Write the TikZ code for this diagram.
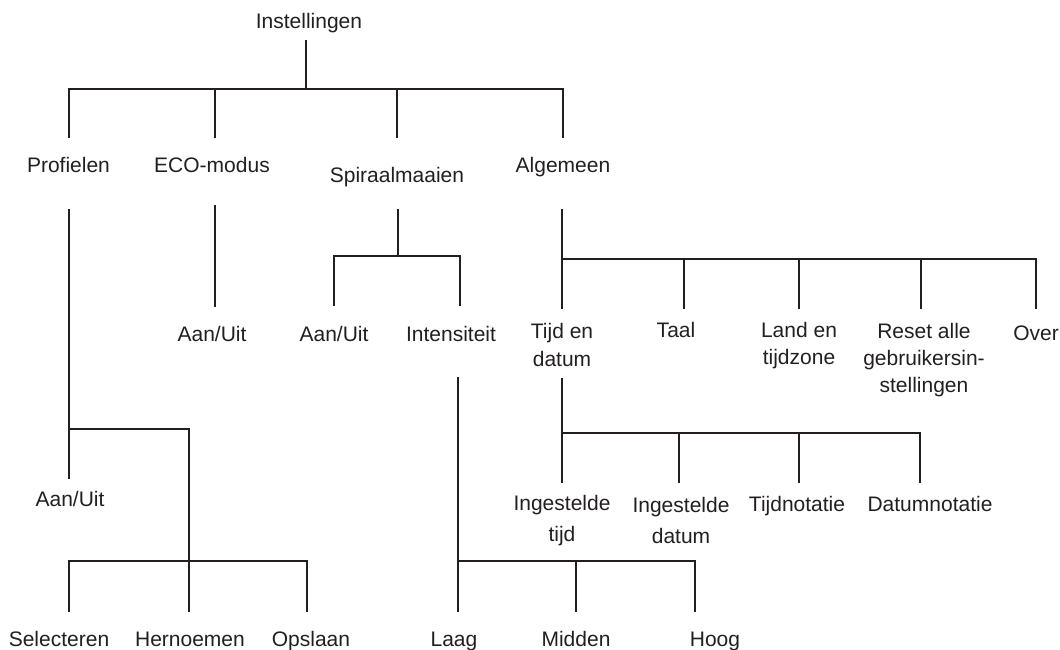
\documentclass[tikz,border=0pt]{standalone}
\usepackage{fontspec}
\setmainfont{Liberation Sans}
\definecolor{ink}{HTML}{231F20}
\begin{document}
\begin{tikzpicture}[x=1pt,y=-1pt,
  lbl/.style={anchor=base,inner sep=0pt,text=ink,align=center,font=\fontsize{21}{28}\selectfont},
  lbltall/.style={lbl,font=\fontsize{21}{31}\selectfont},
  lblshort/.style={lbl,font=\fontsize{21}{27}\selectfont},
  conn/.style={draw=ink,line width=2.5pt,line join=miter}]
\useasboundingbox (0,0) rectangle (1060,649);
% labels (multi-line labels are placed by the baseline of their last line)
\node[lbl] (inst) at (309,28) {Instellingen};
\node[lbl] (prof) at (68.5,172) {Profielen};
\node[lbl] (eco) at (212,172) {ECO-modus};
\node[lbl] (spir) at (397,182) {Spiraalmaaien};
\node[lbl] (alg) at (563,172) {Algemeen};
\node[lbl] (profaan) at (70,506) {Aan/Uit};
\node[lbl] (sel) at (59,646) {Selecteren};
\node[lbl] (hern) at (190,646) {Hernoemen};
\node[lbl] (opsl) at (311,646) {Opslaan};
\node[lbl] (ecoaan) at (212,341) {Aan/Uit};
\node[lbl] (spaan) at (334,341) {Aan/Uit};
\node[lbl] (int) at (451,341) {Intensiteit};
\node[lbl] (laag) at (454,646) {Laag};
\node[lbl] (midd) at (576,646) {Midden};
\node[lbl] (hoog) at (715,646) {Hoog};
\node[lbl] (tijd) at (562,366) {Tijd en\\datum};
\node[lbl] (taal) at (676,337) {Taal};
\node[lblshort] (land) at (799,364) {Land en\\tijdzone};
\node[lblshort] (reset) at (924,392) {Reset alle\\gebruikersin-\\stellingen};
\node[lbl] (over) at (1036,340) {Over};
\node[lbltall] (itijd) at (562,541) {Ingestelde\\tijd};
\node[lbltall] (idat) at (681,543) {Ingestelde\\datum};
\node[lbl] (tnot) at (797,511) {Tijdnotatie};
\node[lbl] (dnot) at (930,511) {Datumnotatie};
% connector coordinates
\coordinate (instB) at (306,40);
\coordinate (instJ) at (306,89);
\coordinate (profT) at (69,138);
\coordinate (ecoT) at (215,138);
\coordinate (spirT) at (397,138);
\coordinate (algT) at (563,138);
% top level
\draw[conn] (instB) -- (instJ);
\draw[conn] (profT) |- (instJ) -| (algT);
\draw[conn] (ecoT) -- (ecoT |- instJ);
\draw[conn] (spirT) -- (spirT |- instJ);
% Profielen
\coordinate (profB) at (69,209);
\coordinate (profJ) at (69,429);
\coordinate (profaanT) at (69,479);
\coordinate (subJ) at (189,561);
\coordinate (selT) at (69,612);
\coordinate (hernT) at (189,612);
\coordinate (opslT) at (307,612);
\draw[conn] (profB) -- (profaanT);
\draw[conn] (profJ) -| (hernT);
\draw[conn] (selT) |- (subJ) -| (opslT);
% ECO
\coordinate (ecoB) at (215,205);
\coordinate (ecoaanT) at (215,307);
\draw[conn] (ecoB) -- (ecoaanT);
% Spiraalmaaien
\coordinate (spirB) at (398,209);
\coordinate (spirJ) at (398,256);
\coordinate (spaanT) at (334,306);
\coordinate (intT) at (460,306);
\draw[conn] (spirB) -- (spirJ);
\draw[conn] (spaanT) |- (spirJ) -| (intT);
% Intensiteit
\coordinate (intB) at (458,377);
\coordinate (intJ) at (458,561);
\coordinate (laagT) at (458,612);
\coordinate (middT) at (576,612);
\coordinate (hoogT) at (695,612);
\draw[conn] (intB) -- (laagT);
\draw[conn] (intJ) -| (hoogT);
\draw[conn] (middT) -- (middT |- intJ);
% Algemeen
\coordinate (algB) at (562,209);
\coordinate (algJ) at (562,259);
\coordinate (tijdT) at (562,309);
\coordinate (taalT) at (684,309);
\coordinate (landT) at (799,309);
\coordinate (resetT) at (921,309);
\coordinate (overT) at (1036,309);
\draw[conn] (algB) -- (tijdT);
\draw[conn] (algJ) -| (overT);
\draw[conn] (taalT) -- (taalT |- algJ);
\draw[conn] (landT) -- (landT |- algJ);
\draw[conn] (resetT) -- (resetT |- algJ);
% Tijd en datum
\coordinate (tijdB) at (562,378);
\coordinate (tijdJ) at (562,433);
\coordinate (itijdT) at (562,483);
\coordinate (idatT) at (679,483);
\coordinate (tnotT) at (799,483);
\coordinate (dnotT) at (920,483);
\draw[conn] (tijdB) -- (itijdT);
\draw[conn] (tijdJ) -| (dnotT);
\draw[conn] (idatT) -- (idatT |- tijdJ);
\draw[conn] (tnotT) -- (tnotT |- tijdJ);
\end{tikzpicture}
\end{document}
